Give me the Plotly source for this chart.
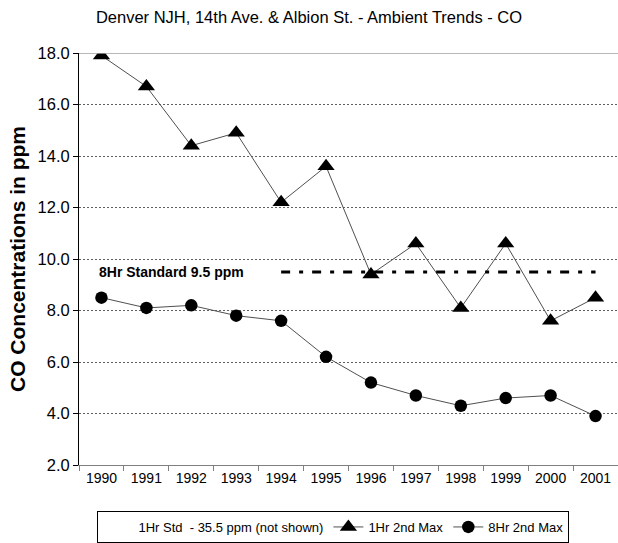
import plotly.graph_objects as go

years = ["1990", "1991", "1992", "1993", "1994", "1995", "1996", "1997", "1998", "1999", "2000", "2001"]
one_hr_2nd_max = [17.9, 16.7, 14.4, 14.9, 12.2, 13.6, 9.4, 10.6, 8.1, 10.6, 7.6, 8.5]
eight_hr_2nd_max = [8.5, 8.1, 8.2, 7.8, 7.6, 6.2, 5.2, 4.7, 4.3, 4.6, 4.7, 3.9]
standard_years = ["1994", "2001"]
standard_value = [9.5, 9.5]
standard_label = "8Hr Standard 9.5 ppm"
one_hr_std_label = "1Hr Std  - 35.5 ppm (not shown)"
y_ticks = [2.0, 4.0, 6.0, 8.0, 10.0, 12.0, 14.0, 16.0, 18.0]

FONT = "Liberation Sans, Arial, sans-serif"

fig = go.Figure()

# legend-only entry (no visible mark)
fig.add_trace(go.Scatter(
    x=[years[0]], y=[None], mode="lines", name=one_hr_std_label,
    line=dict(color="rgba(0,0,0,0)", width=1), hoverinfo="skip"))

fig.add_trace(go.Scatter(
    x=years, y=one_hr_2nd_max, mode="lines+markers", name="1Hr 2nd Max",
    line=dict(color="#505050", width=1),
    marker=dict(symbol="triangle-up", size=15, color="black")))

fig.add_trace(go.Scatter(
    x=years, y=eight_hr_2nd_max, mode="lines+markers", name="8Hr 2nd Max",
    line=dict(color="#505050", width=1),
    marker=dict(symbol="circle", size=12.5, color="black")))

fig.add_trace(go.Scatter(
    x=standard_years, y=standard_value, mode="lines", showlegend=False,
    line=dict(color="black", width=3, dash="9px,9px,4px,9px"), hoverinfo="skip"))

fig.update_layout(
    width=618, height=543,
    margin=dict(l=79, r=0, t=53, b=78),
    paper_bgcolor="white", plot_bgcolor="white",
    font=dict(family=FONT, color="black"),
    title=dict(text="Denver NJH, 14th Ave. & Albion St. - Ambient Trends - CO",
               x=0.5, xanchor="center", y=0.968, yanchor="middle",
               font=dict(size=16.5, family=FONT, color="black")),
    showlegend=True,
    legend=dict(orientation="h", x=0.472, xanchor="center", y=-0.112, yanchor="top",
                bordercolor="black", borderwidth=1, bgcolor="white",
                font=dict(size=13, family=FONT, color="black"),
                itemwidth=30, traceorder="normal"),
)

fig.update_xaxes(
    type="category", categoryorder="array", categoryarray=years,
    range=[-0.5, 11.5], tickson="boundaries", ticks="outside", ticklen=5,
    tickcolor="#808080", showline=True, linecolor="#808080", linewidth=1,
    showgrid=False, tickfont=dict(size=14, family=FONT, color="black"))

fig.update_yaxes(
    range=[2, 18], tickvals=y_ticks, tickformat=".1f", ticks="outside", ticklen=5,
    tickcolor="black", showline=True, linecolor="black", linewidth=1,
    showgrid=True, gridcolor="#606060", gridwidth=1, griddash="2px,2px",
    zeroline=False, tickfont=dict(size=16.5, family=FONT, color="black"))

# solid top boundary line at 18.0
fig.add_shape(type="line", xref="paper", yref="y", x0=0, x1=1, y0=y_ticks[-1], y1=y_ticks[-1],
              line=dict(color="#a0a0a0", width=1.5))

fig.add_annotation(text=f"<b>{standard_label}</b>", xref="paper", yref="y",
                   x=0.033, y=standard_value[0], xanchor="left", yanchor="middle",
                   showarrow=False, font=dict(size=14, family=FONT, color="black"))

fig.add_annotation(text="<b>CO Concentrations in ppm</b>", xref="paper", yref="paper",
                   x=-0.115, y=0.5, xanchor="center", yanchor="middle", textangle=-90,
                   showarrow=False, font=dict(size=21, family=FONT, color="black"))

fig.write_html("out.html", config={"displayModeBar": False},
               post_script="document.body.style.margin='0';")
